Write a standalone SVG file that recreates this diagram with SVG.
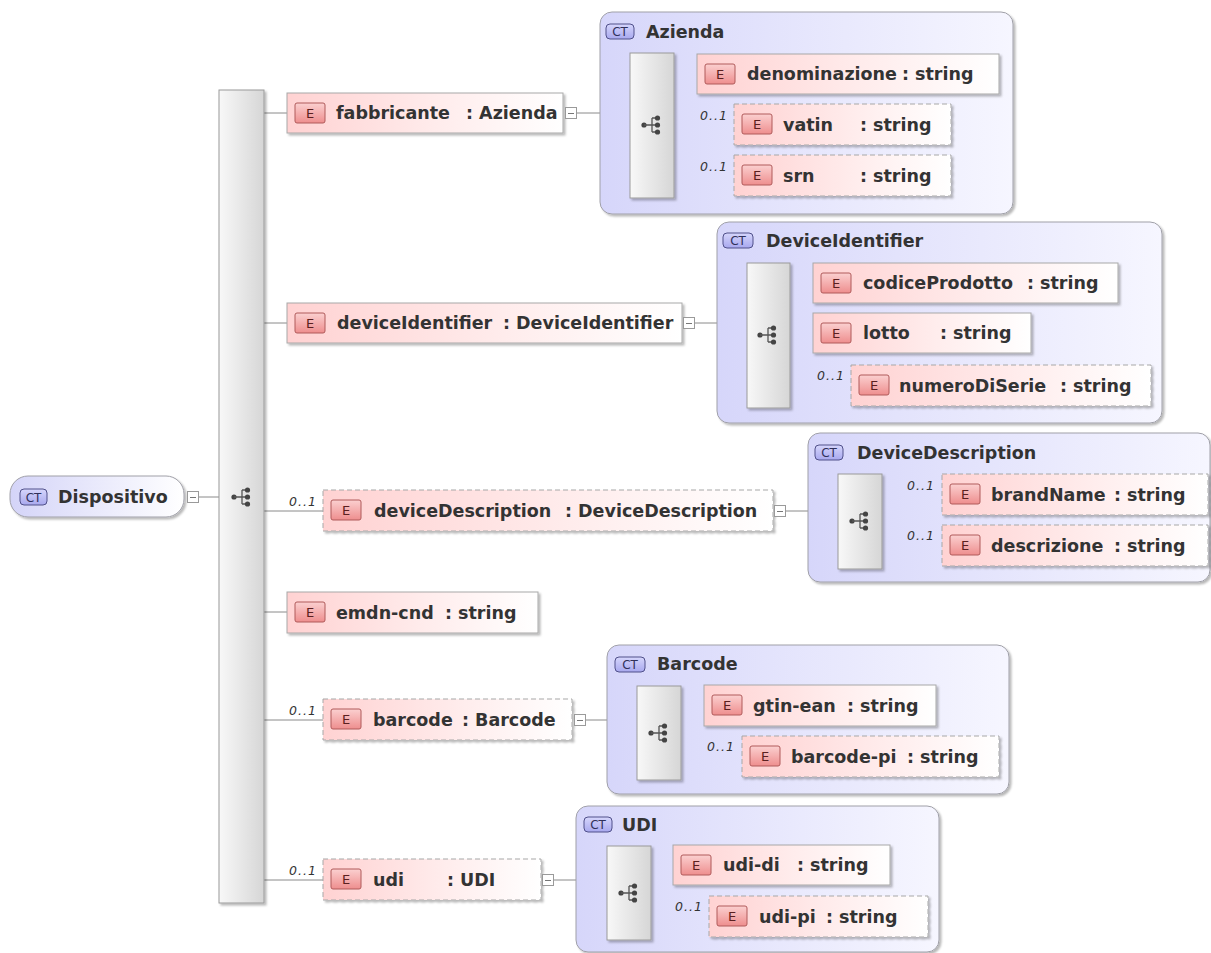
<svg xmlns="http://www.w3.org/2000/svg" width="1211" height="953" viewBox="0 0 1211 953">
<defs>
<linearGradient id="gEl" x1="0" y1="0" x2="1" y2="0"><stop offset="0" stop-color="#ffd2d2"/><stop offset="0.55" stop-color="#ffecec"/><stop offset="1" stop-color="#ffffff"/></linearGradient>
<linearGradient id="gCt" x1="0" y1="0" x2="1" y2="0"><stop offset="0" stop-color="#d6d6fa"/><stop offset="1" stop-color="#f6f6ff"/></linearGradient>
<linearGradient id="gDisp" x1="0" y1="0" x2="1" y2="0"><stop offset="0" stop-color="#d4d4f8"/><stop offset="1" stop-color="#ffffff"/></linearGradient>
<linearGradient id="gBar" x1="0" y1="0" x2="1" y2="0"><stop offset="0" stop-color="#f8f8f8"/><stop offset="1" stop-color="#d6d6d6"/></linearGradient>
<linearGradient id="gEb" x1="0" y1="0" x2="0" y2="1"><stop offset="0" stop-color="#fbd0d0"/><stop offset="1" stop-color="#ee8e8e"/></linearGradient>
<linearGradient id="gCb" x1="0" y1="0" x2="0" y2="1"><stop offset="0" stop-color="#d6d6fc"/><stop offset="1" stop-color="#a8a8ee"/></linearGradient>
<filter id="sh" x="-5%" y="-5%" width="115%" height="130%"><feDropShadow dx="2" dy="2" stdDeviation="1.2" flood-color="#000" flood-opacity="0.28"/></filter>
<g id="seq">
<circle cx="-9" cy="0" r="2.6" fill="#444"/>
<path d="M-9 0H-1M-1 -7V7M-1 -7H4M-1 0H4M-1 7H4" stroke="#555" stroke-width="1.3" fill="none"/>
<circle cx="4.5" cy="-7" r="2.6" fill="#444"/><circle cx="4.5" cy="0" r="2.6" fill="#444"/><circle cx="4.5" cy="7" r="2.6" fill="#444"/>
</g>
<g id="col"><rect x="0.5" y="0.5" width="11" height="11" fill="#fff" stroke="#9a9a9a"/><path d="M3 6.5H9" stroke="#777"/></g>
</defs>
<style>
.el{fill:url(#gEl);stroke:#a8a8a8;stroke-width:1;filter:url(#sh)}
.opt{stroke-dasharray:5 3}
.ct{fill:url(#gCt);stroke:#a0a0a8;stroke-width:1;filter:url(#sh)}
.bar{fill:url(#gBar);stroke:#9a9a9a;stroke-width:1;filter:url(#sh)}
.eb{fill:url(#gEb);stroke:#b05a5a;stroke-width:1}
.cb{fill:url(#gCb);stroke:#50508a;stroke-width:1}
.et{font-family:"DejaVu Sans",sans-serif;font-size:13px;fill:#5a2020;text-anchor:middle}
.ctt{font-family:"DejaVu Sans",sans-serif;font-size:12px;fill:#30305a;text-anchor:middle}
.t{font-family:"DejaVu Sans",sans-serif;font-weight:bold;font-size:17.5px;fill:#333}
.oc{font-family:"DejaVu Sans",sans-serif;font-style:italic;font-size:12.5px;fill:#333;letter-spacing:1px}
.ln{stroke:#8a8a8a;stroke-width:1;fill:none}
</style>
<rect width="1211" height="953" fill="#fff"/>

<g id="connectors">
<path class="ln" d="M199 497H219"/>
<path class="ln" d="M264 113H287M264 323H287M264 511H323M264 612H287M264 720H323M264 880H323"/>
<path class="ln" d="M577 113H600M600 125H630M674 74H697M674 125H734M674 176H734"/>
<path class="ln" d="M695 323H717M717 335H747M790 283H813M790 333H813M790 385H851"/>
<path class="ln" d="M786 511H808M808 521H838M882 494H942M882 545H942"/>
<path class="ln" d="M586 720H607M607 733H637M681 705H704M681 756H742"/>
<path class="ln" d="M553 880H576M576 893H607M651 865H673M651 916H709"/>
</g>

<g id="node-dispositivo">
<rect x="10" y="476" width="174" height="41" rx="18" fill="url(#gDisp)" stroke="#a0a0a8" filter="url(#sh)"/>
<rect class="cb" x="20" y="489" width="27" height="16" rx="4"/><text class="ctt" x="33.5" y="501.5">CT</text>
<text class="t" x="58" y="503">Dispositivo</text>
<use href="#col" x="187" y="491"/>
</g>

<g id="seq-main">
<rect class="bar" x="219" y="90" width="45" height="813"/>
<use href="#seq" x="243" y="497"/>
</g>

<g id="el-fabbricante">
<rect class="el" x="287" y="93" width="276" height="40"/>
<rect class="eb" x="295" y="103" width="30" height="20" rx="2"/><text class="et" x="310" y="118">E</text>
<text class="t" x="336" y="119">fabbricante</text><text class="t" x="466" y="119">: Azienda</text>
<use href="#col" x="565" y="107"/>
</g>

<g id="ct-azienda">
<rect class="ct" x="600" y="12" width="413" height="202" rx="12"/>
<rect class="cb" x="606" y="24" width="28" height="15" rx="4"/><text class="ctt" x="620" y="36">CT</text>
<text class="t" x="646" y="38">Azienda</text>
<rect class="bar" x="630" y="53" width="44" height="145"/>
<use href="#seq" x="653" y="125"/>
</g>
<g id="el-denominazione">
<rect class="el" x="697" y="54" width="302" height="40"/>
<rect class="eb" x="705" y="64" width="30" height="20" rx="2"/><text class="et" x="720" y="79">E</text>
<text class="t" x="747" y="80">denominazione</text><text class="t" x="902" y="80">: string</text>
</g>
<g id="el-vatin">
<text class="oc" x="700" y="120">0..1</text>
<rect class="el opt" x="734" y="104" width="217" height="41"/>
<rect class="eb" x="742" y="114" width="30" height="20" rx="2"/><text class="et" x="757" y="129">E</text>
<text class="t" x="783" y="131">vatin</text><text class="t" x="860" y="131">: string</text>
</g>
<g id="el-srn">
<text class="oc" x="700" y="171">0..1</text>
<rect class="el opt" x="734" y="155" width="217" height="41"/>
<rect class="eb" x="742" y="165" width="30" height="20" rx="2"/><text class="et" x="757" y="180">E</text>
<text class="t" x="783" y="182">srn</text><text class="t" x="860" y="182">: string</text>
</g>

<g id="el-deviceIdentifier">
<rect class="el" x="287" y="303" width="395" height="40"/>
<rect class="eb" x="295" y="313" width="30" height="20" rx="2"/><text class="et" x="310" y="328">E</text>
<text class="t" x="337" y="329">deviceIdentifier</text><text class="t" x="503" y="329">: DeviceIdentifier</text>
<use href="#col" x="683" y="317"/>
</g>
<g id="ct-deviceIdentifier">
<rect class="ct" x="717" y="222" width="445" height="201" rx="12"/>
<rect class="cb" x="723" y="233" width="30" height="15" rx="4"/><text class="ctt" x="738" y="245">CT</text>
<text class="t" x="766" y="247">DeviceIdentifier</text>
<rect class="bar" x="747" y="263" width="43" height="145"/>
<use href="#seq" x="769" y="335"/>
</g>
<g id="el-codiceProdotto">
<rect class="el" x="813" y="263" width="305" height="40"/>
<rect class="eb" x="821" y="273" width="30" height="20" rx="2"/><text class="et" x="836" y="288">E</text>
<text class="t" x="863" y="289">codiceProdotto</text><text class="t" x="1027" y="289">: string</text>
</g>
<g id="el-lotto">
<rect class="el" x="813" y="313" width="218" height="40"/>
<rect class="eb" x="821" y="323" width="30" height="20" rx="2"/><text class="et" x="836" y="338">E</text>
<text class="t" x="863" y="339">lotto</text><text class="t" x="940" y="339">: string</text>
</g>
<g id="el-numeroDiSerie">
<text class="oc" x="817" y="380">0..1</text>
<rect class="el opt" x="851" y="365" width="300" height="41"/>
<rect class="eb" x="859" y="375" width="30" height="20" rx="2"/><text class="et" x="874" y="390">E</text>
<text class="t" x="899" y="392">numeroDiSerie</text><text class="t" x="1060" y="392">: string</text>
</g>

<g id="el-deviceDescription">
<text class="oc" x="289" y="506">0..1</text>
<rect class="el opt" x="323" y="490" width="450" height="41"/>
<rect class="eb" x="331" y="500" width="30" height="20" rx="2"/><text class="et" x="346" y="515">E</text>
<text class="t" x="374" y="517">deviceDescription</text><text class="t" x="565" y="517">: DeviceDescription</text>
<use href="#col" x="774" y="505"/>
</g>
<g id="ct-deviceDescription">
<rect class="ct" x="808" y="433" width="402" height="149" rx="12"/>
<rect class="cb" x="815" y="445" width="28" height="15" rx="4"/><text class="ctt" x="829" y="457">CT</text>
<text class="t" x="857" y="459">DeviceDescription</text>
<rect class="bar" x="838" y="474" width="44" height="95"/>
<use href="#seq" x="861" y="521"/>
</g>
<g id="el-brandName">
<text class="oc" x="907" y="490">0..1</text>
<rect class="el opt" x="942" y="474" width="266" height="41"/>
<rect class="eb" x="950" y="484" width="30" height="20" rx="2"/><text class="et" x="965" y="499">E</text>
<text class="t" x="991" y="501">brandName</text><text class="t" x="1114" y="501">: string</text>
</g>
<g id="el-descrizione">
<text class="oc" x="907" y="540">0..1</text>
<rect class="el opt" x="942" y="525" width="266" height="41"/>
<rect class="eb" x="950" y="535" width="30" height="20" rx="2"/><text class="et" x="965" y="550">E</text>
<text class="t" x="991" y="552">descrizione</text><text class="t" x="1114" y="552">: string</text>
</g>

<g id="el-emdn-cnd">
<rect class="el" x="287" y="592" width="251" height="41"/>
<rect class="eb" x="295" y="602" width="30" height="20" rx="2"/><text class="et" x="310" y="617">E</text>
<text class="t" x="336" y="619">emdn-cnd</text><text class="t" x="445" y="619">: string</text>
</g>

<g id="el-barcode">
<text class="oc" x="289" y="715">0..1</text>
<rect class="el opt" x="323" y="699" width="249" height="41"/>
<rect class="eb" x="331" y="709" width="30" height="20" rx="2"/><text class="et" x="346" y="724">E</text>
<text class="t" x="373" y="726">barcode</text><text class="t" x="462" y="726">: Barcode</text>
<use href="#col" x="574" y="714"/>
</g>
<g id="ct-barcode">
<rect class="ct" x="607" y="645" width="402" height="149" rx="12"/>
<rect class="cb" x="615" y="657" width="30" height="15" rx="4"/><text class="ctt" x="630" y="669">CT</text>
<text class="t" x="657" y="670">Barcode</text>
<rect class="bar" x="637" y="686" width="44" height="94"/>
<use href="#seq" x="660" y="733"/>
</g>
<g id="el-gtin-ean">
<rect class="el" x="704" y="685" width="232" height="41"/>
<rect class="eb" x="712" y="695" width="30" height="20" rx="2"/><text class="et" x="727" y="710">E</text>
<text class="t" x="753" y="712">gtin-ean</text><text class="t" x="847" y="712">: string</text>
</g>
<g id="el-barcode-pi">
<text class="oc" x="707" y="751">0..1</text>
<rect class="el opt" x="742" y="736" width="257" height="41"/>
<rect class="eb" x="750" y="746" width="30" height="20" rx="2"/><text class="et" x="765" y="761">E</text>
<text class="t" x="791" y="763">barcode-pi</text><text class="t" x="907" y="763">: string</text>
</g>

<g id="el-udi">
<text class="oc" x="289" y="875">0..1</text>
<rect class="el opt" x="323" y="859" width="218" height="41"/>
<rect class="eb" x="331" y="869" width="30" height="20" rx="2"/><text class="et" x="346" y="884">E</text>
<text class="t" x="373" y="886">udi</text><text class="t" x="447" y="886">: UDI</text>
<use href="#col" x="542" y="874"/>
</g>
<g id="ct-udi">
<rect class="ct" x="576" y="806" width="363" height="146" rx="12"/>
<rect class="cb" x="584" y="817" width="28" height="15" rx="4"/><text class="ctt" x="598" y="829">CT</text>
<text class="t" x="622" y="831">UDI</text>
<rect class="bar" x="607" y="846" width="44" height="94"/>
<use href="#seq" x="630" y="893"/>
</g>
<g id="el-udi-di">
<rect class="el" x="673" y="845" width="217" height="40"/>
<rect class="eb" x="681" y="855" width="30" height="20" rx="2"/><text class="et" x="696" y="870">E</text>
<text class="t" x="723" y="871">udi-di</text><text class="t" x="797" y="871">: string</text>
</g>
<g id="el-udi-pi">
<text class="oc" x="675" y="911">0..1</text>
<rect class="el opt" x="709" y="896" width="219" height="41"/>
<rect class="eb" x="717" y="906" width="30" height="20" rx="2"/><text class="et" x="732" y="921">E</text>
<text class="t" x="759" y="923">udi-pi</text><text class="t" x="826" y="923">: string</text>
</g>
</svg>
